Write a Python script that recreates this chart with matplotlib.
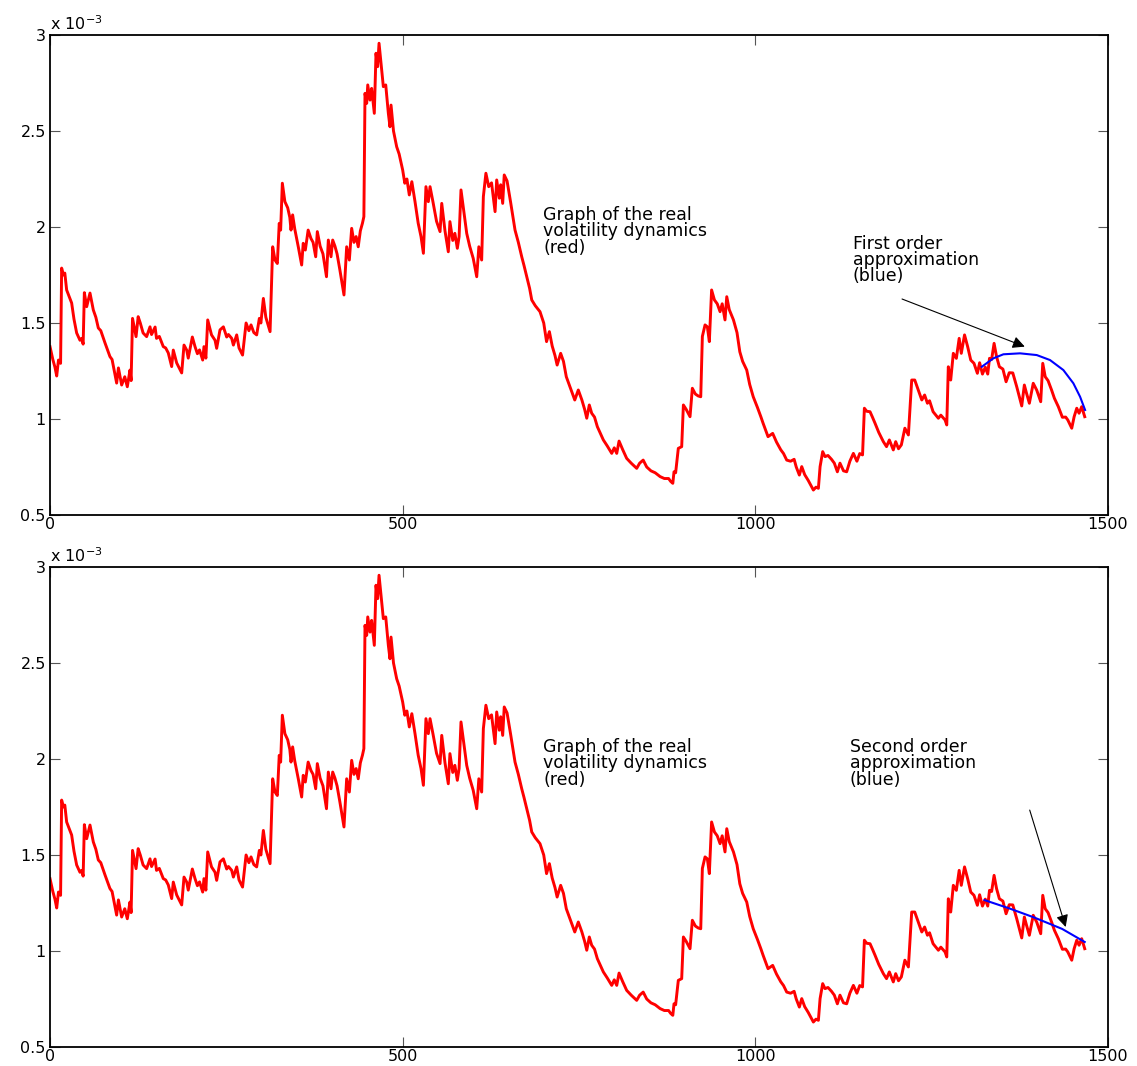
import matplotlib
matplotlib.use("Agg")
import matplotlib.pyplot as plt

plt.rcParams['font.family'] = ['DejaVu Sans']
plt.rcParams['mathtext.fontset'] = 'dejavusans'

# Realised volatility (units of 1e-3) against trading day
day = [0, 4, 7, 9.5, 12, 15, 16.5, 19, 21, 23.6, 27, 30.7, 34, 37.8, 42.5, 45, 47, 48.7,
       52, 56.7, 61.4, 65, 68.5, 72, 78, 85, 88, 94.5, 97, 101.6, 106, 109.6, 113.4, 115,
       117, 122, 125, 128, 132, 137, 141.8, 144, 149, 151, 155, 160.6, 164, 167.7, 172.5,
       174.8, 179.6, 186.7, 190, 193.8, 196, 201.8, 205.6, 209, 212, 216.5, 218.3, 221,
       223.6, 229, 234, 236.3, 241, 245.8, 250.5, 253, 257.6, 260, 264.7, 268, 273, 278,
       282, 285, 289, 293, 296.8, 299, 302.5, 306, 312, 315.7, 319, 322.3, 325, 327,
       329.4, 333, 337, 340, 341.7, 344, 347, 352, 356.8, 359, 362, 366, 370, 373, 376.7,
       379, 383, 387, 392, 394.6, 398.4, 400.8, 404, 407, 411, 416.8, 420.6, 424.4, 427.7,
       431, 434, 437, 440, 443, 445, 446.6, 449, 450.5, 453.7, 456, 459.8, 462.2, 464.5,
       466.5, 469.3, 472.6, 476, 479.7, 482, 483.5, 487, 491.5, 495, 500, 503, 506, 509.4,
       513, 517.5, 522, 526, 529.4, 533, 536.4, 538.8, 543, 548, 553, 555.4, 560, 564.7,
       567, 571, 574, 577.5, 580, 582.7, 586, 590.8, 595, 600, 605, 608, 612, 614.4, 618,
       622, 626, 631, 633.3, 637, 639, 641.8, 644, 648, 653, 659.3, 664, 668.8, 672, 676,
       680, 683, 688, 694.7, 700, 704, 708, 712, 716, 719, 724, 728, 732, 738, 744, 749,
       754, 758, 761, 764.6, 768, 772, 776, 781, 784.5, 790, 796.4, 800, 803.5, 806.8,
       812, 817.6, 824, 831.8, 836, 841, 846, 852, 858, 865, 871, 877, 880, 883, 884.7,
       887, 890.8, 895.6, 898, 902, 907.4, 910.7, 915, 919, 922.6, 924.9, 928.7, 932,
       934.8, 938, 942, 946, 950, 953, 957, 959.5, 963, 969, 974, 978, 982, 987.8, 992,
       997, 1003, 1008, 1011, 1018, 1024.6, 1030, 1036, 1040, 1044.5, 1050, 1055, 1058,
       1062.4, 1065.8, 1070, 1075, 1082.3, 1086, 1089.4, 1091.8, 1095.5, 1098.8, 1103,
       1108, 1112, 1116.3, 1120, 1125, 1129.5, 1134, 1139, 1144, 1148, 1152, 1154.6,
       1158, 1162.6, 1166, 1169.7, 1175, 1181.5, 1186, 1190, 1195.6, 1199, 1203, 1207,
       1212, 1217, 1221.7, 1226, 1231, 1236, 1240, 1244, 1247, 1252, 1259.5, 1263, 1269,
       1271.4, 1273.6, 1277, 1280.7, 1285, 1289, 1292, 1296.6, 1301, 1305.4, 1310,
       1314.8, 1318, 1322, 1326, 1329.5, 1332, 1335, 1338.5, 1342, 1346, 1351, 1355.5,
       1360, 1365, 1370.6, 1377.7, 1381.4, 1384.5, 1388.5, 1394, 1399, 1404.6, 1407.5,
       1411, 1415, 1420, 1424, 1429.6, 1435.3, 1440, 1443, 1448.6, 1452, 1455.7, 1459,
       1462.7, 1467]
vol = [1.377, 1.31, 1.27, 1.224, 1.307, 1.29, 1.786, 1.75, 1.76, 1.672, 1.64, 1.604, 1.52,
       1.448, 1.41, 1.42, 1.39, 1.658, 1.585, 1.656, 1.568, 1.53, 1.474, 1.46, 1.396,
       1.325, 1.31, 1.187, 1.266, 1.177, 1.22, 1.168, 1.255, 1.20, 1.524, 1.429, 1.533,
       1.50, 1.448, 1.429, 1.48, 1.44, 1.479, 1.42, 1.43, 1.377, 1.37, 1.344, 1.273,
       1.359, 1.292, 1.24, 1.385, 1.359, 1.317, 1.427, 1.377, 1.34, 1.36, 1.307, 1.377,
       1.317, 1.516, 1.438, 1.41, 1.368, 1.464, 1.48, 1.427, 1.44, 1.42, 1.385, 1.438,
       1.37, 1.333, 1.5, 1.46, 1.49, 1.45, 1.438, 1.524, 1.50, 1.628, 1.53, 1.455, 1.897,
       1.828, 1.81, 2.019, 1.984, 2.228, 2.132, 2.10, 2.05, 1.984, 2.063, 1.99, 1.897,
       1.802, 1.915, 1.88, 1.984, 1.94, 1.92, 1.845, 1.976, 1.90, 1.86, 1.741, 1.932,
       1.845, 1.932, 1.90, 1.86, 1.776, 1.646, 1.897, 1.828, 1.993, 1.92, 1.95, 1.897,
       1.98, 2.02, 2.054, 2.696, 2.644, 2.74, 2.661, 2.722, 2.592, 2.905, 2.835, 2.957,
       2.853, 2.731, 2.74, 2.592, 2.522, 2.635, 2.50, 2.418, 2.38, 2.297, 2.228, 2.25,
       2.167, 2.236, 2.132, 2.02, 1.95, 1.863, 2.21, 2.132, 2.21, 2.13, 2.03, 1.976,
       2.123, 1.98, 1.871, 2.028, 1.93, 1.967, 1.889, 1.95, 2.193, 2.10, 1.967, 1.90,
       1.837, 1.741, 1.897, 1.828, 2.158, 2.28, 2.21, 2.23, 2.08, 2.245, 2.15, 2.22,
       2.123, 2.271, 2.24, 2.13, 1.984, 1.92, 1.845, 1.80, 1.741, 1.68, 1.62, 1.59,
       1.559, 1.50, 1.403, 1.455, 1.38, 1.33, 1.281, 1.342, 1.30, 1.22, 1.16, 1.099,
       1.151, 1.10, 1.05, 1.004, 1.073, 1.03, 1.01, 0.96, 0.92, 0.891, 0.86, 0.821, 0.85,
       0.821, 0.885, 0.84, 0.795, 0.77, 0.743, 0.77, 0.786, 0.75, 0.73, 0.72, 0.70, 0.69,
       0.69, 0.675, 0.665, 0.725, 0.72, 0.847, 0.856, 1.073, 1.05, 1.012, 1.16, 1.13,
       1.12, 1.116, 1.43, 1.49, 1.48, 1.403, 1.672, 1.62, 1.60, 1.559, 1.60, 1.516,
       1.637, 1.57, 1.516, 1.45, 1.35, 1.30, 1.255, 1.18, 1.116, 1.06, 1.01, 0.978,
       0.908, 0.925, 0.88, 0.84, 0.82, 0.786, 0.78, 0.79, 0.75, 0.708, 0.752, 0.71, 0.68,
       0.63, 0.645, 0.639, 0.752, 0.83, 0.804, 0.81, 0.79, 0.77, 0.725, 0.77, 0.73,
       0.725, 0.78, 0.821, 0.78, 0.82, 0.813, 1.056, 1.04, 1.038, 1.01, 0.978, 0.93,
       0.882, 0.856, 0.891, 0.839, 0.882, 0.845, 0.865, 0.952, 0.917, 1.203, 1.203,
       1.151, 1.099, 1.125, 1.082, 1.095, 1.038, 1.004, 1.02, 0.995, 0.969, 1.272, 1.203,
       1.342, 1.316, 1.42, 1.342, 1.438, 1.377, 1.307, 1.29, 1.238, 1.293, 1.234, 1.27,
       1.234, 1.316, 1.31, 1.394, 1.325, 1.272, 1.26, 1.194, 1.241, 1.24, 1.168, 1.068,
       1.177, 1.134, 1.082, 1.186, 1.15, 1.09, 1.29, 1.22, 1.20, 1.151, 1.108, 1.064,
       1.009, 1.01, 0.995, 0.952, 1.012, 1.056, 1.03, 1.064, 1.012]

# First order approximation over the last window
first_day = [1321, 1337.5, 1351.7, 1375.3, 1399, 1417.8, 1436.7, 1450.9, 1460.4, 1467.5]
first_vol = [1.272, 1.316, 1.337, 1.342, 1.333, 1.307, 1.255, 1.186, 1.116, 1.047]

# Second order approximation over the last window
second_day = [1325, 1360, 1395, 1435, 1467]
second_vol = [1.265, 1.222, 1.175, 1.115, 1.047]

x_ticks = [0, 500, 1000, 1500]
y_ticks = [0.5, 1, 1.5, 2, 2.5, 3]
y_tick_labels = ['0.5', '1', '1.5', '2', '2.5', '3']

FS = 12.5      # annotation text
TICK_FS = 11.5 # tick labels

panels = [
    dict(ax_rect=[50 / 1137, (1066 - 515) / 1066, 1058 / 1137, 480 / 1066],
         fit_day=first_day, fit_vol=first_vol,
         label="First order\napproximation\n(blue)", label_xy=(1138, 1.96),
         arrow_from=(1208, 1.625), arrow_to=(1382, 1.377)),
    dict(ax_rect=[50 / 1137, (1066 - 1047) / 1066, 1058 / 1137, 480 / 1066],
         fit_day=second_day, fit_vol=second_vol,
         label="Second order\napproximation\n(blue)", label_xy=(1134, 2.11),
         arrow_from=(1389, 1.734), arrow_to=(1440, 1.125)),
]

fig = plt.figure(figsize=(11.37, 10.66), dpi=100)

for p in panels:
    ax = fig.add_axes(p['ax_rect'])
    ax.plot(day, vol, color='#ff0000', lw=2.1, solid_joinstyle='round')
    ax.plot(p['fit_day'], p['fit_vol'], color='#0000ff', lw=1.5)
    ax.set_xlim(0, 1500)
    ax.set_ylim(0.5, 3)
    ax.set_xticks(x_ticks)
    ax.set_xticklabels([str(t) for t in x_ticks])
    ax.set_yticks(y_ticks)
    ax.set_yticklabels(y_tick_labels)
    ax.tick_params(direction='in', length=7, width=0.8, color='#555555',
                   top=True, right=True, labelsize=TICK_FS)
    ax.tick_params(axis='x', pad=1.5)
    ax.tick_params(axis='y', pad=3)
    for s in ax.spines.values():
        s.set_linewidth(1.3)
        s.set_color('black')
    ax.text(0.0, 1.004, r'x 10$^{-3}$', transform=ax.transAxes,
            fontsize=TICK_FS, ha='left', va='bottom')
    ax.text(699, 2.11, "Graph of the real\nvolatility dynamics\n(red)",
            fontsize=FS, ha='left', va='top', linespacing=0.88)
    ax.text(p['label_xy'][0], p['label_xy'][1], p['label'],
            fontsize=FS, ha='left', va='top', linespacing=0.88)
    ax.annotate('', xy=p['arrow_to'], xytext=p['arrow_from'],
                arrowprops=dict(arrowstyle='-|>', color='black', lw=0.8,
                                mutation_scale=18, shrinkA=0, shrinkB=0))

fig.savefig('out.png', dpi=100)
